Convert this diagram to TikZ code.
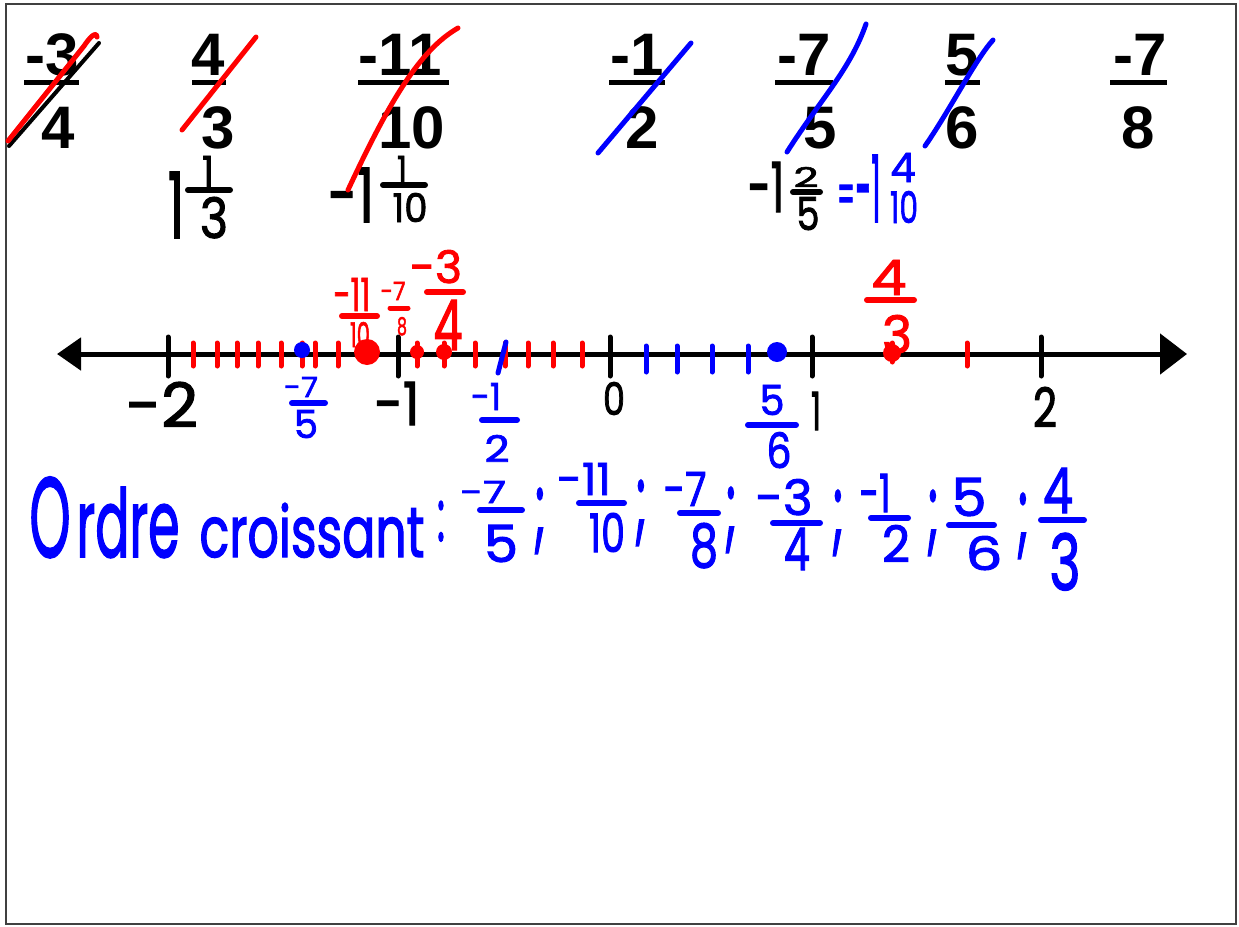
\documentclass[tikz,border=0pt]{standalone}
\usepackage{graphicx}
\usepackage{fontspec}
\usetikzlibrary{arrows.meta}
\newfontfamily\topfont{Liberation Sans}
\newfontfamily\hwfont{Poppins}[FakeBold=2]
\newcommand\hw[3]{\resizebox{#1pt}{#2pt}{\hwfont #3}}
\definecolor{mblue}{RGB}{0,0,255}
\definecolor{mred}{RGB}{255,0,0}
\tikzset{
 tf/.style={font=\topfont\bfseries\fontsize{60}{60}\selectfont, anchor=base, inner sep=0pt},
 tbar/.style={line width=5pt},
 h/.style={anchor=base, inner sep=0pt},
 hbar/.style={line width=6pt, line cap=round},
 strike/.style={line width=5pt, line cap=round},
 tickk/.style={line width=5pt, line cap=round, black},
 tickr/.style={line width=5pt, line cap=round, mred},
 tickb/.style={line width=5pt, line cap=round, mblue},
}
\begin{document}
\begin{tikzpicture}[x=1pt,y=-1pt]
\useasboundingbox (0,0) rectangle (1239,926);
\fill[white] (0,0) rectangle (1239,926);
\draw[line width=2.5pt, black!75] (6,4) rectangle (1236,924);

% top fractions
\node[tf] (t1n) at (52,75) {-3};
\draw[tbar] (24,82) -- (79,82);
\node[tf] (t1d) at (58,148) {4};
\node[tf] (t2n) at (208,75) {4};
\draw[tbar] (192,82) -- (226,82);
\node[tf] (t2d) at (218,148) {3};
\node[tf] (t3n) at (400,75) {-11};
\draw[tbar] (358,82) -- (449,82);
\node[tf] (t3d) at (412,148) {10};
\node[tf] (t4n) at (637,75) {-1};
\draw[tbar] (609,82) -- (665,82);
\node[tf] (t4d) at (642,148) {2};
\node[tf] (t5n) at (804,75) {-7};
\draw[tbar] (775,82) -- (833,82);
\node[tf] (t5d) at (820,148) {5};
\node[tf] (t6n) at (962,75) {5};
\draw[tbar] (945,82) -- (980,82);
\node[tf] (t6d) at (962,148) {6};
\node[tf] (t7n) at (1140,75) {-7};
\draw[tbar] (1110,82) -- (1167,82);
\node[tf] (t7d) at (1138,148) {8};

% mixed numbers
\node[h] (m1a) at (176,238) {\hw{16}{66}{1}};
\node[h] (m1n) at (208,187) {\hw{12}{31}{1}};
\draw[hbar] (188,190) -- (230,190);
\node[h] (m1d) at (214,238) {\hw{28}{41}{3}};

\node[h] (m2a) at (351,222) {\hw{46}{54}{-1}};
\node[h] (m2n) at (402,182) {\hw{10}{26}{1}};
\draw[hbar] (383,185) -- (425,185);
\node[h] (m2d) at (410,222) {\hw{35}{29}{10}};

\node[h] (m3a) at (766,212) {\hw{36}{50}{-1}};
\node[h] (m3n) at (806,187) {\hw{25}{20}{2}};
\draw[hbar] (793,192) -- (820,192);
\node[h] (m3d) at (808,230) {\hw{23}{33}{5}};

\node[h,text=mblue] (m4e) at (846,215) {\hw{18}{30}{=}};
\node[h,text=mblue] (m4a) at (868,222) {\hw{25}{67}{-1}};
\node[h,text=mblue] (m4n) at (903,182) {\hw{25}{29}{4}};
\node[h,text=mblue] (m4d) at (904,223) {\hw{28}{32}{10}};

% strikes
\draw[strike, black, line width=4pt] (9,146) -- (99,43);
\draw[strike, mred] (8,141) -- (84,46) .. controls (90,37) and (96,31) .. (97,37);
\draw[strike, mred] (182,130) -- (256,37);
\draw[strike, mred] (348,190) .. controls (390,100) and (420,50) .. (458,28);
\draw[strike, mblue] (598,153) -- (691,43);
\draw[strike, mblue] (787,152) .. controls (820,100) and (850,70) .. (866,24);
\draw[strike, mblue] (925,146) .. controls (950,110) and (975,60) .. (993,40);

% number line
\coordinate (axL) at (57,354);
\coordinate (axR) at (1187,354);
\draw[line width=5pt, {Triangle[length=24pt,width=32pt]}-{Triangle[length=27pt,width=40pt]}] (axL) -- (axR);
\foreach \x in {168,398,610,812,1041} \draw[tickk] (\x,337) -- (\x,376);
\foreach \x in {193,217,237,258,281,302,315,338,417,444,475,505,528,553,582,967} \draw[tickr] (\x,343) -- (\x,366);
\draw[tickr] (892,343) -- (892,362);
\foreach \x in {646,677,712,748} \draw[tickb] (\x,346) -- (\x,372);
\draw[tickb] (506,342) -- (498,373);
\fill[mred] (367,352) circle (13pt);
\fill[mred] (417,352) circle (7pt);
\fill[mred] (444,352) circle (8pt);
\fill[mred] (892,353) circle (9pt);
\fill[mblue] (302,350) circle (8pt);
\fill[mblue] (777,352) circle (10pt);

\node[h] (lm2) at (162,427) {\hw{72}{45}{-2}};
\node[h] (lm1) at (397,425) {\hw{45}{43}{-1}};
\node[h] (l0) at (614,415) {\hw{22}{33}{0}};
\node[h] (l1) at (816,430) {\hw{10}{38}{1}};
\node[h] (l2) at (1045,427) {\hw{24}{40}{2}};

\node[h,text=mblue] (b1n) at (301,397) {\hw{34}{20}{-7}};
\draw[hbar,mblue] (292,403) -- (325,403);
\node[h,text=mblue] (b1d) at (306,438) {\hw{24}{28}{5}};
\node[h,text=mblue] (b2n) at (486,410) {\hw{30}{27}{-1}};
\draw[hbar,mblue] (482,420) -- (517,420);
\node[h,text=mblue] (b2d) at (497,462) {\hw{25}{27}{2}};
\node[h,text=mblue] (b3n) at (772,415) {\hw{25}{30}{5}};
\draw[hbar,mblue] (748,425) -- (796,425);
\node[h,text=mblue] (b3d) at (779,468) {\hw{25}{36}{6}};

\node[h,text=mred] (r1n) at (352,311) {\hw{37}{33}{-11}};
\draw[hbar,mred] (342,316) -- (377,316);
\node[h,text=mred] (r1d) at (360,347) {\hw{20}{25}{10}};
\node[h,text=mred] (r2n) at (393,300) {\hw{25}{18}{-7}};
\draw[hbar,mred,line width=5pt] (390,308) -- (408,308);
\node[h,text=mred] (r2d) at (402,335) {\hw{10}{18}{8}};
\node[h,text=mred] (r3n) at (436,283) {\hw{52}{33}{-3}};
\draw[hbar,mred] (427,292) -- (463,292);
\node[h,text=mred] (r3d) at (448,350) {\hw{29}{50}{4}};
\node[h,text=mred] (r4n) at (889,295) {\hw{35}{35}{4}};
\draw[hbar,mred] (867,300) -- (914,300);
\node[h,text=mred] (r4d) at (897,353) {\hw{30}{38}{3}};

% ordre croissant
\node[h,text=mblue] (ordO) at (50,557) {\hw{41}{80}{O}};
\node[h,text=mblue] (ordr) at (128,557) {\hw{103}{70}{rdre}};
\node[h,text=mblue] (ordc) at (312,557) {\hw{225}{54}{croissant}};
\node[h,text=mblue] (col) at (441,541) {\hw{8}{40}{:}};
\node[h,text=mblue] (f1n) at (483,503) {\hw{46}{22}{-7}};
\draw[hbar,mblue] (480,510) -- (522,510);
\node[h,text=mblue] (f1d) at (501,562) {\hw{34}{37}{5}};
\node[h,text=mblue] (s1) at (540,540) {\hw{12}{52}{;}};
\node[h,text=mblue] (f2n) at (584,495) {\hw{54}{32}{-11}};
\draw[hbar,mblue] (579,503) -- (624,503);
\node[h,text=mblue] (f2d) at (607,552) {\hw{36}{39}{10}};
\node[h,text=mblue] (s2) at (641,532) {\hw{12}{52}{;}};
\node[h,text=mblue] (f3n) at (685,506) {\hw{43}{34}{-7}};
\draw[hbar,mblue] (680,513) -- (718,513);
\node[h,text=mblue] (f3d) at (704,567) {\hw{28}{44}{8}};
\node[h,text=mblue] (s3) at (731,539) {\hw{12}{52}{;}};
\node[h,text=mblue] (f4n) at (784,515) {\hw{57}{36}{-3}};
\draw[hbar,mblue] (773,523) -- (820,523);
\node[h,text=mblue] (f4d) at (797,570) {\hw{26}{42}{4}};
\node[h,text=mblue] (s4) at (838,542) {\hw{12}{52}{;}};
\node[h,text=mblue] (f5n) at (875,512) {\hw{31}{38}{-1}};
\draw[hbar,mblue] (871,518) -- (908,518);
\node[h,text=mblue] (f5d) at (896,562) {\hw{28}{37}{2}};
\node[h,text=mblue] (s5) at (933,542) {\hw{12}{52}{;}};
\node[h,text=mblue] (f6n) at (969,516) {\hw{35}{38}{5}};
\draw[hbar,mblue] (949,525) -- (994,525);
\node[h,text=mblue] (f6d) at (984,570) {\hw{37}{34}{6}};
\node[h,text=mblue] (s6) at (1023,545) {\hw{12}{52}{;}};
\node[h,text=mblue] (f7n) at (1058,513) {\hw{30}{45}{4}};
\draw[hbar,mblue] (1041,520) -- (1084,520);
\node[h,text=mblue] (f7d) at (1065,590) {\hw{31}{57}{3}};
\end{tikzpicture}
\end{document}
